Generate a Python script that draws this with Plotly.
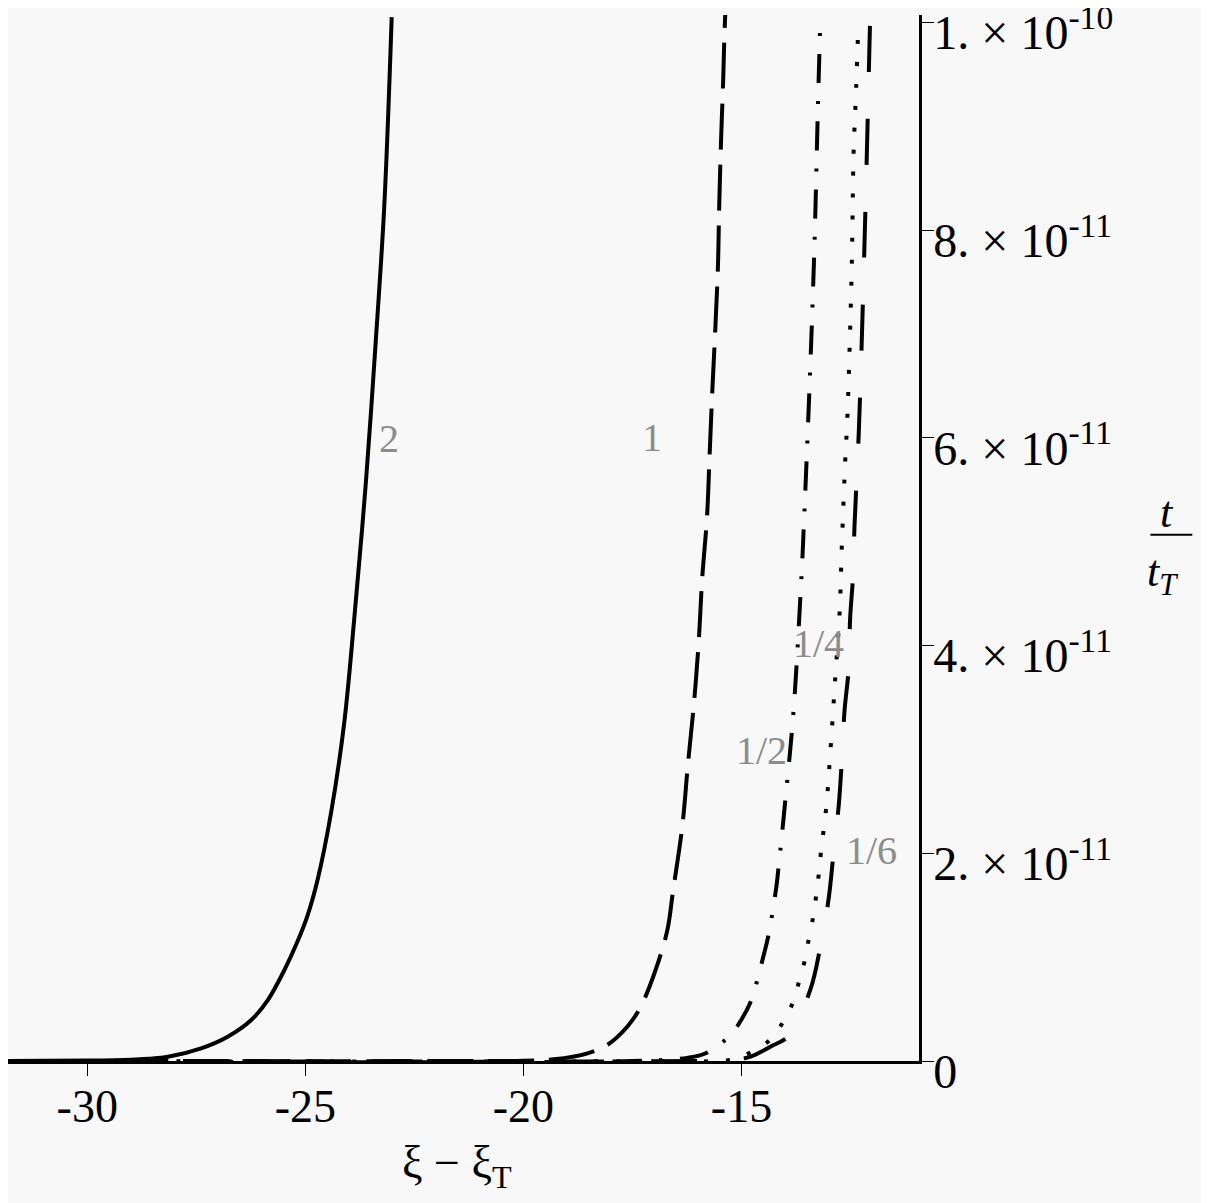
import plotly.graph_objects as go

# xi - xi_T values and t/t_T values (in units of 1e-11)
xi_2 = [-32.0, -30.0, -29.0, -28.6, -28.15, -27.39, -26.78, -26.24, -25.86, -25.48,
        -25.18, -24.95, -24.72, -24.41, -24.11, -23.88, -23.61, -23.39, -23.19, -23.02]
t_2 = [0.0, 0.004, 0.012, 0.022, 0.041, 0.122, 0.234, 0.395, 0.587, 0.876,
       1.15, 1.40, 1.743, 2.39, 3.25, 4.25, 5.58, 6.90, 8.23, 10.05]

xi_1 = [-32.0, -21.0, -20.0, -19.3, -18.53, -18.08, -17.62, -17.31, -16.97, -16.70,
        -16.57, -16.36, -16.23, -16.09, -15.98, -15.90, -15.79, -15.73, -15.67, -15.60,
        -15.54, -15.51, -15.47, -15.42, -15.39, -15.37]
t_1 = [0.0, 0.0, 0.003, 0.016, 0.074, 0.154, 0.33, 0.523, 0.876, 1.26,
       1.635, 2.248, 2.846, 3.442, 4.039, 4.652, 5.24, 5.84, 6.44, 7.05,
       7.65, 8.244, 8.84, 9.44, 9.886, 10.1]

xi_half = [-32.0, -17.5, -16.24, -15.82, -15.25, -15.0, -14.79, -14.49, -14.38, -14.20,
           -14.15, -13.99, -13.84, -13.76, -13.61, -13.57, -13.44, -13.33, -13.25, -13.19]
t_half = [0.0, 0.0, 0.03, 0.074, 0.25, 0.40, 0.571, 1.021, 1.213, 1.678,
          1.867, 2.53, 3.193, 3.657, 4.786, 5.16, 6.49, 7.81, 9.14, 10.07]

xi_quarter = [-32.0, -16.5, -15.25, -14.76, -14.35, -14.05, -13.83, -13.68, -13.55, -13.46,
              -13.36, -13.29, -13.23, -13.18, -13.06, -12.95, -12.85, -12.75, -12.70, -12.62,
              -12.57, -12.47, -12.43, -12.37, -12.32]
t_quarter = [0.0, 0.0, 0.01, 0.09, 0.202, 0.373, 0.556, 0.764, 0.966, 1.17,
             1.38, 1.585, 1.79, 2.006, 2.43, 3.053, 3.69, 4.32, 4.95, 5.79,
             6.22, 7.69, 8.74, 9.37, 10.0]

xi_sixth = [-32.0, -16.0, -15.2, -14.79, -14.34, -13.92, -13.42, -13.19, -13.00, -12.89,
            -12.77, -12.70, -12.64, -12.54, -12.51, -12.44, -12.41, -12.31, -12.18, -12.05]
t_sixth = [0.0, 0.0, 0.01, 0.043, 0.138, 0.242, 0.689, 1.104, 1.568, 1.999,
           2.463, 2.894, 3.359, 3.79, 4.254, 4.686, 5.14, 6.06, 7.86, 10.05]

curve_names = ['2', '1', '1/2', '1/4', '1/6']
label_xi = [-23.08, -17.05, -14.53, -13.23, -12.01]
label_t = [5.99, 6.0, 2.99, 4.02, 2.03]

y_tickvals = [0, 2, 4, 6, 8, 10]
y_ticktext = ['0', '2. × 10<sup>-11</sup>', '4. × 10<sup>-11</sup>',
              '6. × 10<sup>-11</sup>', '8. × 10<sup>-11</sup>', '1. × 10<sup>-10</sup>']
x_tickvals = [-30, -25, -20, -15]
x_ticktext = ['-30', '-25', '-20', '-15']

scale = 1e-11
serif = 'Times New Roman, Liberation Serif, DejaVu Serif, serif'
bg = '#f8f8f8'

curves = [
    (xi_2, t_2, 'solid'),
    (xi_1, t_1, '46px,15px'),
    (xi_half, t_half, '29px,18px,3px,18px'),
    (xi_quarter, t_quarter, '4px,18px'),
    (xi_sixth, t_sixth, '46px,47px'),
]

fig = go.Figure()

for (xs, ts, dash), name in zip(curves, curve_names):
    fig.add_trace(go.Scatter(
        x=xs,
        y=[v * scale for v in ts],
        mode='lines',
        name=name,
        line=dict(color='black', width=4, dash=dash, shape='spline', smoothing=1.0),
        showlegend=False
    ))

for name, lx, lt in zip(curve_names, label_xi, label_t):
    fig.add_annotation(
        x=lx, y=lt * scale, text=name, showarrow=False,
        font=dict(family=serif, size=40, color='#8c8c8c')
    )

# x axis title
fig.add_annotation(
    x=0.493, y=-0.13, xref='paper', yref='paper', text='ξ − ξ<sub>T</sub>',
    showarrow=False, font=dict(family=serif, size=46, color='black')
)

# y axis label written as a fraction t / t_T
fig.add_annotation(
    x=1.282, y=0.524, xref='paper', yref='paper', text='<i>t</i>',
    showarrow=False, font=dict(family=serif, size=44, color='black')
)
fig.add_annotation(
    x=1.287, y=0.465, xref='paper', yref='paper', text='<i>t<sub>T</sub></i>',
    showarrow=False, font=dict(family=serif, size=44, color='black')
)
fig.add_shape(
    type='line', xref='paper', yref='paper',
    x0=1.254, x1=1.300, y0=0.503, y1=0.503,
    line=dict(color='black', width=2)
)

# the page adds an 8px border, so the figure is 8px smaller on each side
fig.update_layout(
    width=1201,
    height=1195,
    margin=dict(l=0, r=290, t=7, b=142),
    paper_bgcolor=bg,
    plot_bgcolor=bg,
    font=dict(family=serif, size=46, color='black'),
    xaxis=dict(
        range=[-31.817, -10.93],
        tickvals=x_tickvals,
        ticktext=x_ticktext,
        ticks='outside',
        ticklen=12,
        tickwidth=1,
        tickcolor='black',
        ticklabelstandoff=-9,
        showline=True,
        linecolor='black',
        linewidth=2.5,
        showgrid=False,
        zeroline=False,
        automargin=False
    ),
    yaxis=dict(
        range=[0, 1.007e-10],
        side='right',
        tickvals=[v * scale for v in y_tickvals],
        ticktext=y_ticktext,
        tickfont=dict(size=48),
        ticks='outside',
        ticklen=12,
        tickwidth=1,
        tickcolor='black',
        ticklabelshift=10,
        ticklabelstandoff=-10,
        ticklabeloverflow='allow',
        showline=True,
        linecolor='black',
        linewidth=2.5,
        showgrid=False,
        zeroline=False,
        automargin=False
    )
)

fig.write_html("out.html")
